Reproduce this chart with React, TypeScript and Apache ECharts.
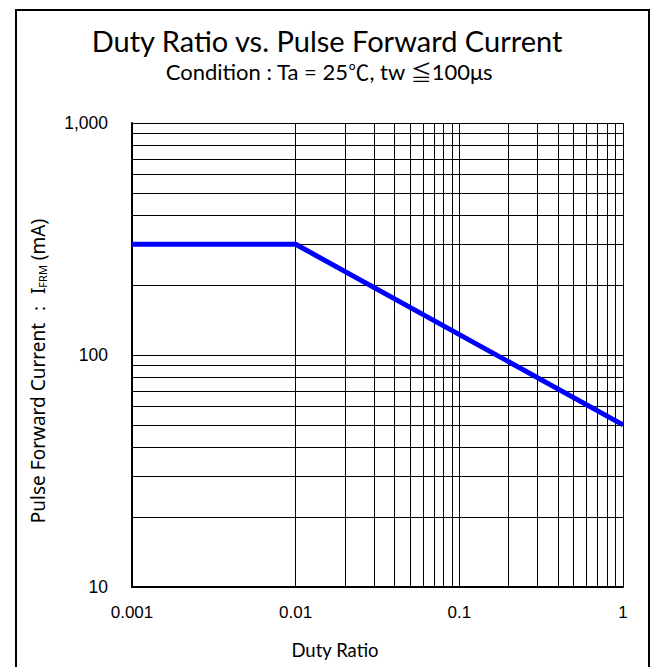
import React, { useEffect, useRef } from "react";
import * as echarts from "echarts";

// Data
const dutyRatio = [0.001, 0.01, 1];
const forwardCurrent = [300, 300, 50];

// Axis ticks / grid
const xDecades = [0.001, 0.01, 0.1, 1];
const yDecades = [10, 100, 1000];
const minorMultiples = [2, 3, 4, 5, 6, 7, 8, 9];

const titleText = "Duty Ratio vs. Pulse Forward Current";
const xName = "Duty Ratio";

export default function App() {
  const ref = useRef<HTMLDivElement>(null);
  useEffect(() => {
    if (!ref.current) return;
    const chart = echarts.init(ref.current, null, { renderer: "svg" });

    const xGrid: number[] = [];
    xDecades.forEach((d, i) => {
      xGrid.push(d);
      if (i < xDecades.length - 1) minorMultiples.forEach((m) => xGrid.push(+(d * m).toPrecision(3)));
    });
    const yGrid: number[] = [];
    yDecades.forEach((d, i) => {
      yGrid.push(d);
      if (i < yDecades.length - 1) minorMultiples.forEach((m) => yGrid.push(d * m));
    });

    const gridLines = [
      ...xGrid.map((v) => ({ xAxis: v })),
      ...yGrid.map((v) => ({ yAxis: v })),
    ];

    const humanist = "Lato";
    const cjk = "Noto Sans CJK JP";

    chart.setOption({
      animation: false,
      backgroundColor: "#fff",
      grid: { left: 132, right: 28, top: 123, bottom: 80 },
      xAxis: {
        type: "log",
        logBase: 10,
        min: 0.001,
        max: 1,
        axisLine: { show: true, lineStyle: { color: "#000", width: 2 } },
        axisTick: { show: false },
        splitLine: { show: false },
        axisLabel: {
          color: "#000",
          fontFamily: "Liberation Sans",
          fontSize: 17,
          margin: 17,
          formatter: (v: number) => String(Number(v.toPrecision(1))),
        },
      },
      yAxis: {
        type: "log",
        logBase: 10,
        min: 10,
        max: 1000,
        axisLine: { show: true, lineStyle: { color: "#000", width: 2 } },
        axisTick: { show: false },
        splitLine: { show: false },
        axisLabel: {
          color: "#000",
          fontFamily: "Liberation Sans",
          fontSize: 17.5,
          margin: 24,
          formatter: (v: number) => Math.round(v).toLocaleString("en-US"),
        },
      },
      series: [
        {
          type: "line",
          data: [],
          silent: true,
          markLine: {
            silent: true,
            symbol: "none",
            label: { show: false },
            lineStyle: { color: "#000", width: 1, type: "solid" },
            data: gridLines,
          },
        },
        {
          type: "line",
          data: dutyRatio.map((d, i) => [d, forwardCurrent[i]]),
          showSymbol: false,
          symbol: "none",
          lineStyle: { color: "#0000ff", width: 5 },
          z: 5,
        },
      ],
      graphic: [
        {
          type: "rect",
          shape: { x: 16, y: 10, width: 633, height: 700 },
          style: { fill: "none", stroke: "#000", lineWidth: 2 },
          silent: true,
        },
        {
          type: "text",
          x: 327,
          y: 40,
          style: {
            text: titleText,
            fontFamily: humanist,
            fontSize: 29,
            lineHeight: 30,
            fill: "#000",
            align: "center",
            verticalAlign: "middle",
          },
        },
        {
          type: "text",
          x: 329,
          y: 71,
          style: {
            text: "{a|Condition : Ta = 25}{c|\u2103}{a|, tw }{c|\u2266}{a|100\u03bcs}",
            align: "center",
            verticalAlign: "middle",
            rich: {
              a: { fontFamily: humanist, fontSize: 22, fill: "#000", lineHeight: 22 },
              c: { fontFamily: cjk, fontSize: 21, fill: "#000", lineHeight: 22 },
            },
          },
        },
        {
          type: "text",
          x: 335,
          y: 650,
          style: {
            text: xName,
            fontFamily: humanist,
            fontSize: 18.5,
            fill: "#000",
            align: "center",
            verticalAlign: "middle",
          },
        },
        {
          type: "text",
          x: 38,
          y: 371,
          rotation: Math.PI / 2,
          style: {
            text: "{a|Pulse Forward Current \uff1a I}{s|FRM}{a| (mA)}",
            fill: "#000",
            align: "center",
            verticalAlign: "middle",
            rich: {
              a: { fontFamily: "Noto Sans", fontSize: 19, fill: "#000", lineHeight: 26 },
              s: { fontFamily: "Noto Sans", fontSize: 11, fill: "#000", lineHeight: 26, padding: [9, 0, 0, 0] },
            },
          },
        },
      ],
    });
    return () => chart.dispose();
  }, []);

  return (
    <div
      ref={ref}
      style={{ position: "fixed", left: 0, top: 0, width: 651, height: 667 }}
    />
  );
}
